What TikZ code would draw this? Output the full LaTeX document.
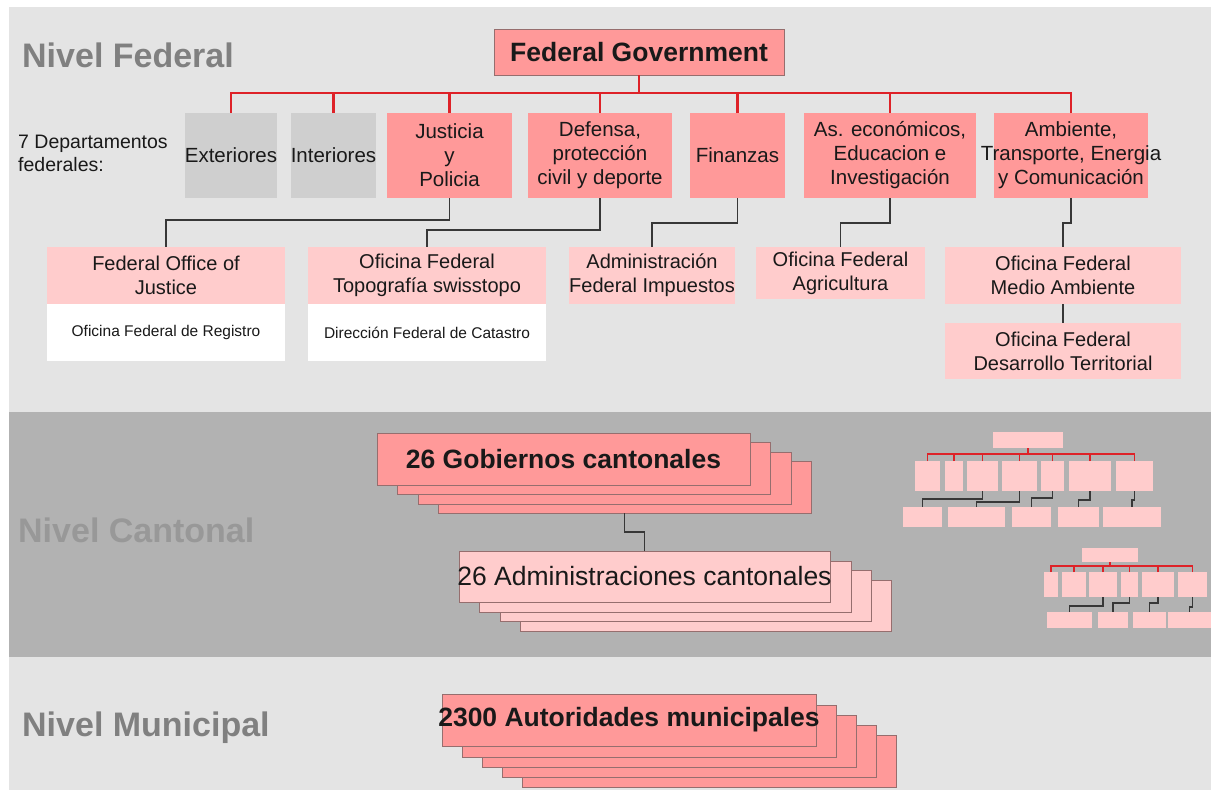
\documentclass[tikz,border=0pt]{standalone}
\usepackage{fontspec}
\setmainfont{Liberation Sans}
\definecolor{pk}{RGB}{255,153,153}
\definecolor{lpk}{RGB}{255,204,204}
\definecolor{gbx}{RGB}{207,207,207}
\definecolor{bgl}{RGB}{228,228,228}
\definecolor{bgd}{RGB}{178,178,178}
\definecolor{redl}{RGB}{222,34,40}
\definecolor{txt}{RGB}{25,25,25}
\definecolor{brd}{RGB}{150,110,110}
\definecolor{cl}{RGB}{55,55,55}
\definecolor{ttl}{RGB}{128,128,128}
\definecolor{ttlc}{RGB}{152,152,152}
\newcommand\fsz[2]{\fontsize{#1}{#2}\selectfont}
\newcommand\mkbox[6]{\node[#1, minimum width={(#4)-(#2)}, minimum height={(#5)-(#3)}] (#6) at ({((#2)+(#4))/2},{((#3)+(#5))/2})}
\begin{document}
\begin{tikzpicture}[x=1pt,y=-1pt,
  bx/.style={inner sep=0pt, outer sep=0pt, align=center, text=txt, font=\fsz{20.5}{24}},
  dk/.style={bx, fill=pk},
  dkb/.style={bx, fill=pk, draw=brd, line width=0.9pt},
  lt/.style={bx, fill=lpk, font=\fsz{20}{24}},
  ltb/.style={bx, fill=lpk, draw=brd, line width=0.8pt},
  gy/.style={bx, fill=gbx},
  wh/.style={bx, fill=white, font=\fsz{15.5}{18}},
  mini/.style={bx, fill=lpk},
  txtn/.style={inner sep=0pt, align=center, text=txt},
  conn/.style={draw=cl, line width=1.6pt},
  rconn/.style={draw=redl, line width=2.2pt},
  mconn/.style={draw=cl, line width=1.3pt},
  mrconn/.style={draw=redl, line width=1.8pt},
  title/.style={anchor=base west, inner sep=0pt, font=\bfseries\fsz{34}{40}}]
\useasboundingbox (0,0) rectangle (1211,790);
\fill[white] (0,0) rectangle (1211,790);
\fill[bgl] (9,7) rectangle (1211,412);
\fill[bgd] (9,412) rectangle (1211,657);
\fill[bgl] (9,657) rectangle (1211,790);

% titles
\node[title, text=ttl] (tf) at (22,67) {Nivel Federal};
\node[title, text=ttlc] (tc) at (18,542) {Nivel Cantonal};
\node[title, text=ttl] (tm) at (22,736) {Nivel Municipal};

% federal government
\mkbox{dkb}{494}{29}{784}{75}{fg}{\bfseries\fsz{26.5}{30}Federal Government};
\coordinate (bus) at (639,93);

\node[anchor=west, align=left, inner sep=0pt, text=txt, font=\fsz{19.5}{23}] (dep) at (18,153) {7 Departamentos\\federales:};

% departments
\mkbox{gy}{185}{113}{277}{198}{ext}{Exteriores};
\mkbox{gy}{295}{113}{372}{198}{int}{Interiores};
\mkbox{dk}{387}{113}{512}{198}{just}{Justicia\\y\\Policia};
\mkbox{dk}{528}{113}{672}{198}{def}{Defensa,\\protección\\civil y deporte};
\mkbox{dk}{690}{113}{785}{198}{fin}{Finanzas};
\mkbox{dk}{804}{113}{976}{198}{ase}{As. económicos,\\Educacion e\\Investigación};
\mkbox{dk}{994}{113}{1148}{198}{amb}{};
\node[txtn, font=\fsz{20.5}{24}] (ambt) at (amb.center) {Ambiente,\\Transporte, Energia\\y Comunicación};

\draw[rconn] (fg.south) -- (bus);
\foreach \d in {ext,int,just,def,fin,ase,amb} {\draw[rconn] (\d.north) |- (bus);}

% offices
\mkbox{lt}{47}{247}{285}{304}{foj}{Federal Office of\\Justice};
\mkbox{wh}{47}{304}{285}{361}{ofr}{Oficina Federal de Registro};
\mkbox{lt}{308}{247}{546}{304}{topo}{Oficina Federal\\Topografía swisstopo};
\mkbox{wh}{308}{304}{546}{361}{dfc}{Dirección Federal de Catastro};
\mkbox{lt}{571}{247}{733}{304}{aimp}{Administración\\Federal Impuestos};
\mkbox{lt}{756}{247}{925}{299}{agri}{Oficina Federal\\Agricultura};
\mkbox{lt}{945}{247}{1181}{304}{oma}{Oficina Federal\\Medio Ambiente};
\mkbox{lt}{945}{323}{1181}{379}{odt}{Oficina Federal\\Desarrollo Territorial};

\draw[conn] (just.south) -- ++(0,22) -| (foj.north);
\draw[conn] (def.south) -- ++(0,32) -| (topo.north);
\draw[conn] (fin.south) -- ++(0,25) -| (aimp.north);
\draw[conn] (ase.south) -- ++(0,25) -| (agri.north);
\draw[conn] (amb.south) -- ++(0,25) -| (oma.north);
\draw[conn] (oma.south) -- (odt.north);

% cantonal stacks
\mkbox{dkb}{438}{461}{811}{513}{gobC}{};
\mkbox{dkb}{418}{452}{791}{504}{gobB}{};
\mkbox{dkb}{397}{442}{770}{494}{gobA}{};
\mkbox{dkb}{377}{433}{750}{485}{gob}{};
\node[txtn, font=\bfseries\fsz{26.5}{30}] (gobt) at (gob.center) {26 Gobiernos cantonales};

\mkbox{ltb}{520}{580}{891}{631}{admC}{};
\mkbox{ltb}{500}{570}{871}{621}{admB}{};
\mkbox{ltb}{479}{561}{851}{612}{admA}{};
\mkbox{ltb}{459}{551}{830}{602}{adm}{};
\node[txtn, font=\fsz{26.5}{30}] (admt) at (adm.center) {26 Administraciones cantonales};

\draw[conn] (gobC.south) -- ++(0,19) -| (adm.north);

% mini chart 1
\mkbox{mini}{993}{432}{1063}{448}{mAt}{};
\coordinate (mAbus) at (1028,454);
\mkbox{mini}{915}{461}{940}{491}{mAa}{};
\mkbox{mini}{945}{461}{963}{491}{mAb}{};
\mkbox{mini}{967}{461}{998}{491}{mAc}{};
\mkbox{mini}{1002}{461}{1037}{491}{mAd}{};
\mkbox{mini}{1041}{461}{1064}{491}{mAe}{};
\mkbox{mini}{1069}{461}{1111}{491}{mAf}{};
\mkbox{mini}{1116}{461}{1153}{491}{mAg}{};
\mkbox{mini}{903}{507}{942}{527}{mAp}{};
\mkbox{mini}{948}{507}{1005}{527}{mAq}{};
\mkbox{mini}{1012}{507}{1051}{527}{mAr}{};
\mkbox{mini}{1058}{507}{1099}{527}{mAs}{};
\mkbox{mini}{1103}{507}{1161}{527}{mAu}{};
\draw[mrconn] (mAt.south) -- (mAbus);
\foreach \d in {mAa,mAb,mAc,mAd,mAe,mAf,mAg} {\draw[mrconn] (\d.north) |- (mAbus);}
\draw[mconn] (mAc.south) -- ++(0,8) -| (mAp.north);
\draw[mconn] (mAd.south) -- ++(0,11) -| (mAq.north);
\draw[mconn] (mAe.south) -- ++(0,7) -| (mAr.north);
\draw[mconn] (mAf.south) -- ++(0,9) -| (mAs.north);
\draw[mconn] (mAg.south) -- ++(0,9) -| (mAu.north);

% mini chart 2
\mkbox{mini}{1082}{548}{1138}{562}{mBt}{};
\coordinate (mBbus) at (1110,566);
\mkbox{mini}{1044}{572}{1058}{597}{mBa}{};
\mkbox{mini}{1062}{572}{1086}{597}{mBb}{};
\mkbox{mini}{1089}{572}{1117}{597}{mBc}{};
\mkbox{mini}{1121}{572}{1138}{597}{mBd}{};
\mkbox{mini}{1142}{572}{1174}{597}{mBe}{};
\mkbox{mini}{1178}{572}{1207}{597}{mBf}{};
\mkbox{mini}{1047}{612}{1092}{628}{mBp}{};
\mkbox{mini}{1098}{612}{1128}{628}{mBq}{};
\mkbox{mini}{1133}{612}{1166}{628}{mBr}{};
\mkbox{mini}{1168}{612}{1211}{628}{mBs}{};
\draw[mrconn] (mBt.south) -- (mBbus);
\foreach \d in {mBa,mBb,mBc,mBd,mBe,mBf} {\draw[mrconn] (\d.north) |- (mBbus);}
\draw[mconn] (mBc.south) -- ++(0,9) -| (mBp.north);
\draw[mconn] (mBd.south) -- ++(0,6) -| (mBq.north);
\draw[mconn] (mBe.south) -- ++(0,6) -| (mBr.north);
\draw[mconn] (mBf.south) -- ++(0,10) -| (mBs.north);

% municipal stack
\mkbox{dkb}{522}{735}{896}{787}{munD}{};
\mkbox{dkb}{502}{725}{876}{777}{munC}{};
\mkbox{dkb}{482}{715}{856}{767}{munB}{};
\mkbox{dkb}{462}{705}{836}{757}{munA}{};
\mkbox{dkb}{442}{694}{816}{746}{mun}{};
\node[txtn, font=\bfseries\fsz{26.5}{30}] (munt) at (mun.center) {2300 Autoridades municipales};
\end{tikzpicture}
\end{document}
